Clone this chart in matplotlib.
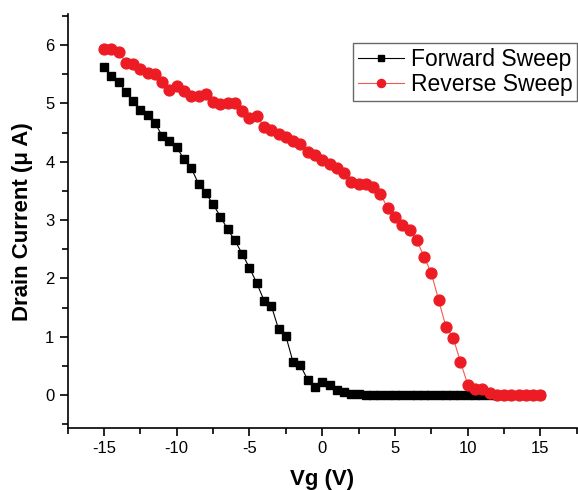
import matplotlib
matplotlib.use("Agg")
import matplotlib.pyplot as plt
from matplotlib.ticker import MultipleLocator

plt.rcParams['font.family'] = ['Liberation Sans', 'DejaVu Sans']
plt.rcParams['axes.unicode_minus'] = False

# gate voltage sweep (V)
vg = [-15.0, -14.5, -14.0, -13.5, -13.0, -12.5, -12.0, -11.5, -11.0, -10.5,
      -10.0, -9.5, -9.0, -8.5, -8.0, -7.5, -7.0, -6.5, -6.0, -5.5,
      -5.0, -4.5, -4.0, -3.5, -3.0, -2.5, -2.0, -1.5, -1.0, -0.5,
      0.0, 0.5, 1.0, 1.5, 2.0, 2.5, 3.0, 3.5, 4.0, 4.5,
      5.0, 5.5, 6.0, 6.5, 7.0, 7.5, 8.0, 8.5, 9.0, 9.5,
      10.0, 10.5, 11.0, 11.5, 12.0, 12.5, 13.0, 13.5, 14.0, 14.5, 15.0]

# drain current (uA)
forward = [5.62, 5.47, 5.37, 5.20, 5.05, 4.89, 4.80, 4.67, 4.44, 4.35,
           4.25, 4.04, 3.89, 3.62, 3.46, 3.27, 3.06, 2.84, 2.65, 2.42,
           2.18, 1.92, 1.62, 1.53, 1.13, 1.01, 0.56, 0.51, 0.26, 0.13,
           0.23, 0.18, 0.09, 0.06, 0.02, 0.01, 0.0, 0.0, 0.0, 0.0,
           0.0, 0.0, 0.0, 0.0, 0.0, 0.0, 0.0, 0.0, 0.0, 0.0,
           0.0, 0.0, 0.0, 0.0, 0.0, 0.0, 0.0, 0.0, 0.0, 0.0, 0.0]

reverse = [5.93, 5.93, 5.89, 5.70, 5.68, 5.59, 5.53, 5.50, 5.37, 5.23,
           5.30, 5.21, 5.12, 5.13, 5.16, 5.03, 4.99, 5.00, 5.00, 4.87,
           4.75, 4.79, 4.60, 4.55, 4.48, 4.43, 4.36, 4.30, 4.16, 4.12,
           4.03, 3.97, 3.89, 3.80, 3.66, 3.62, 3.61, 3.57, 3.45, 3.20,
           3.06, 2.92, 2.83, 2.65, 2.37, 2.09, 1.63, 1.17, 0.98, 0.57,
           0.18, 0.11, 0.11, 0.03, 0.0, 0.0, 0.0, 0.0, 0.0, 0.0, 0.0]

fig = plt.figure(figsize=(5.78, 4.9), dpi=100)
ax = fig.add_axes([0.117, 0.126, 0.881, 0.845])

ax.plot(vg, forward, color='black', lw=0.8, marker='s', ms=6.3,
        mec='black', mfc='black', label='Forward Sweep')
ax.plot(vg, reverse, color='#f05a4a', lw=0.8, marker='o', ms=7.8,
        mec='#ed1c24', mfc='#ed1c24', label='Reverse Sweep')

ax.set_xlim(-17.5, 17.5)
ax.set_ylim(-0.57, 6.53)
ax.xaxis.set_major_locator(MultipleLocator(5))
ax.xaxis.set_minor_locator(MultipleLocator(2.5))
ax.yaxis.set_major_locator(MultipleLocator(1))
ax.yaxis.set_minor_locator(MultipleLocator(0.5))
ax.tick_params(which='major', direction='out', length=6, width=1.2, labelsize=12)
ax.tick_params(which='minor', direction='out', length=4, width=1.2)

for s in ['top', 'right']:
    ax.spines[s].set_visible(False)
for s in ['left', 'bottom']:
    ax.spines[s].set_linewidth(1.2)

ax.set_xlabel('Vg (V)', fontsize=16, fontweight='bold', labelpad=9)
ax.set_ylabel('Drain Current (\u03bc A)', fontsize=16, fontweight='bold', labelpad=9)

leg = ax.legend(loc='upper right', bbox_to_anchor=(1.0, 0.93), borderaxespad=0,
                fontsize=16.5, frameon=True, fancybox=False, edgecolor='#444444',
                handlelength=2.0, handletextpad=0.3, borderpad=0.2,
                labelspacing=0.1, markerscale=0.75)
leg.get_frame().set_linewidth(1.0)

fig.savefig('out.png', dpi=100)
